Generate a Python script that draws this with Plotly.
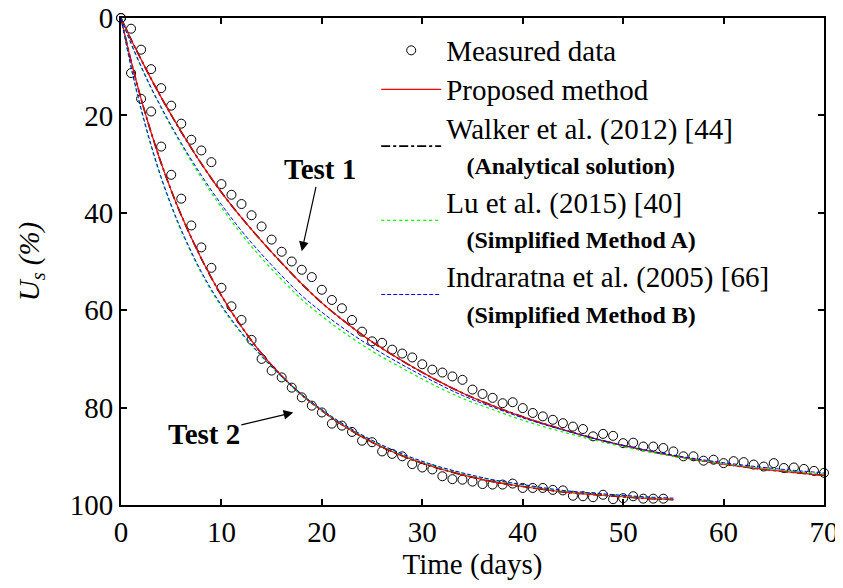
import plotly.graph_objects as go

# measured data (daily readings)
days_t1 = list(range(0, 71))
us_t1 = [0, 2.2, 6.5, 10.5, 14.4, 18.0, 21.7, 25.0, 27.2, 29.6,
         34.1, 36.3, 38.2, 40.5, 42.8, 45.5, 48.0, 50.0, 51.7, 53.2,
         55.8, 57.9, 59.6, 62.0, 64.4, 66.4, 66.7, 68.1, 68.9, 69.7,
         71.1, 72.2, 72.8, 73.6, 74.3, 76.3, 77.2, 78.0, 79.1, 78.9,
         80.1, 81.1, 81.8, 82.5, 83.2, 83.9, 84.4, 85.9, 85.4, 85.8,
         87.3, 87.2, 88.0, 88.0, 88.3, 89.0, 90.0, 90.0, 90.9, 90.7,
         91.4, 91.0, 91.2, 91.7, 92.1, 91.4, 92.4, 92.3, 92.6, 93.0,
         93.4]

days_t2 = list(range(0, 55))
us_t2 = [0, 11.3, 16.6, 19.2, 26.4, 32.2, 37.1, 42.6, 47.1, 51.3,
         55.4, 59.2, 62.0, 66.1, 70.0, 72.4, 73.8, 75.9, 77.9, 79.6,
         81.0, 83.3, 83.7, 85.0, 86.8, 87.1, 89.0, 89.5, 90.0, 91.6,
         92.3, 92.7, 94.1, 94.7, 94.8, 95.2, 95.7, 95.8, 95.8, 95.6,
         96.5, 96.5, 96.5, 96.9, 97.0, 98.1, 98.2, 98.4, 97.9, 98.8,
         98.6, 98.2, 98.7, 98.7, 98.7]

# predicted curves, Test 1
curve_t1 = [0, 1, 2, 3, 4, 5, 6, 8, 10, 12, 14, 16, 18, 20, 22, 25, 28, 31,
            34, 37, 40, 44, 48, 52, 56, 60, 65, 70]
proposed_t1 = [0, 4.4, 8.5, 12.5, 16.3, 19.9, 23.4, 29.9, 35.8, 41.0, 45.8,
               50.3, 54.6, 58.5, 61.9, 66.5, 70.4, 73.9, 77.0, 79.6, 81.9,
               84.5, 86.8, 88.7, 90.3, 91.6, 92.9, 93.9]
walker_t1 = proposed_t1
lu_t1 = [0, 5.3, 10.1, 14.5, 18.5, 22.4, 26.0, 32.8, 38.9, 44.4, 49.3, 53.7,
         57.8, 61.2, 64.3, 68.4, 71.9, 75.2, 78.1, 80.4, 82.6, 85.0, 87.1,
         88.9, 90.3, 91.5, 92.7, 93.6]
indraratna_t1 = [0, 5.2, 9.9, 14.3, 18.3, 22.1, 25.7, 32.3, 38.3, 43.7, 48.5,
                 52.9, 57.0, 60.4, 63.5, 67.6, 71.2, 74.5, 77.5, 79.9, 82.1,
                 84.6, 86.8, 88.6, 90.1, 91.3, 92.5, 93.4]

# predicted curves, Test 2
curve_t2 = [0, 1, 2, 3, 4, 5, 6, 8, 10, 12, 14, 16, 18, 20, 22, 25, 28, 31,
            34, 37, 40, 44, 48, 52, 55]
proposed_t2 = [0, 8.8, 16.6, 23.5, 29.8, 35.4, 40.5, 49.4, 57.0, 63.4, 68.9,
               73.5, 77.4, 80.6, 83.5, 87.1, 89.9, 92.1, 93.8, 95.2, 96.2,
               97.3, 98.0, 98.6, 98.9]
walker_t2 = proposed_t2
lu_t2 = [0, 10.2, 18.9, 26.4, 33.0, 38.7, 43.8, 52.4, 59.3, 64.8, 69.5, 73.7,
         77.4, 80.5, 83.3, 86.8, 89.6, 91.8, 93.5, 94.9, 95.9, 97.1, 97.8,
         98.4, 98.7]
indraratna_t2 = [0, 10.0, 18.6, 26.1, 32.7, 38.4, 43.5, 52.1, 59.0, 64.6,
                 69.4, 73.6, 77.3, 80.4, 83.2, 86.7, 89.5, 91.7, 93.4, 94.8,
                 95.8, 97.0, 97.7, 98.3, 98.6]

FONT = "Liberation Serif, Times New Roman, serif"
MAIN = "<span style='font-size:29px'>%s</span>"
SUB = "<br>\u00a0\u00a0\u00a0<b><span style='font-size:24px'>%s</span></b>"

fig = go.Figure()

# drawing order: walker under the proposed curve, legend order via legendrank
series = [
    (2, MAIN % "Walker et al. (2012) [44]" + SUB % "(Analytical solution)",
     "black", "dashdot", 1.6, walker_t1, walker_t2),
    (1, MAIN % "Proposed method", "#FF0000", "solid", 1.2,
     proposed_t1, proposed_t2),
    (3, MAIN % "Lu et al. (2015) [40]" + SUB % "(Simplified Method A)",
     "#00FF00", "dot", 1.2, lu_t1, lu_t2),
    (4, MAIN % "Indraratna et al. (2005) [66]" + SUB % "(Simplified Method B)",
     "#0000FF", "4px,2px", 1, indraratna_t1, indraratna_t2),
]

marker = dict(symbol="circle-open", size=9, color="black",
              line=dict(width=1, color="black"))
fig.add_trace(go.Scatter(
    x=days_t1, y=us_t1, mode="markers", name=MAIN % "Measured data",
    legendgroup="meas", legendrank=1, cliponaxis=False, marker=marker,
))
fig.add_trace(go.Scatter(
    x=days_t2, y=us_t2, mode="markers", name=MAIN % "Measured data",
    legendgroup="meas", showlegend=False, cliponaxis=False, marker=marker,
))

for rank, name, color, dash, width, y1, y2 in series:
    for j, (xs, ys) in enumerate([(curve_t1, y1), (curve_t2, y2)]):
        fig.add_trace(go.Scatter(
            x=xs, y=ys, mode="lines", name=name, legendgroup="g%d" % rank,
            legendrank=rank + 1, showlegend=(j == 0),
            line=dict(color=color, dash=dash, width=width, shape="spline"),
        ))

# arrows + labels
fig.add_annotation(x=18, y=47.9, ax=19.8, ay=31.1, axref="x", ayref="y",
                   text="<b>Test 1</b>", showarrow=True, arrowhead=2,
                   arrowsize=1.6, arrowwidth=1.2, arrowcolor="black",
                   font=dict(family=FONT, size=29, color="black"))
fig.add_annotation(x=17.15, y=81.0, ax=8.25, ay=85.4, axref="x", ayref="y",
                   text="<b>Test 2</b>", showarrow=True, arrowhead=2,
                   arrowsize=1.6, arrowwidth=1.2, arrowcolor="black",
                   font=dict(family=FONT, size=29, color="black"))

axis_style = dict(
    showline=True, linecolor="black", linewidth=2, mirror="ticks",
    ticks="inside", ticklen=6, tickwidth=1.5, tickcolor="black",
    showgrid=False, zeroline=False, automargin=False,
    ticklabeloverflow="allow",
    tickfont=dict(family=FONT, size=29, color="black"),
)

fig.update_xaxes(range=[0, 70], dtick=10,
                 title=dict(text="Time (days)", standoff=4,
                            font=dict(family=FONT, size=29, color="black")),
                 **axis_style)
fig.update_yaxes(range=[100, 0], dtick=20,
                 title=dict(text="<i>U</i><sub><i>s</i></sub><i> (%)</i>",
                            standoff=22,
                            font=dict(family=FONT, size=29, color="black")),
                 **axis_style)

# page body adds an 8px margin, so the figure is 8px smaller than the window
fig.update_layout(
    width=835, height=580,
    margin=dict(l=113, r=19, t=10, b=83),
    paper_bgcolor="white", plot_bgcolor="white",
    font=dict(family=FONT, color="black"),
    legend=dict(x=0.363, y=0.983, xanchor="left", yanchor="top",
                bgcolor="rgba(0,0,0,0)", itemwidth=60,
                font=dict(family=FONT, size=27, color="black"),
                tracegroupgap=1),
)

fig.write_html("out.html")
